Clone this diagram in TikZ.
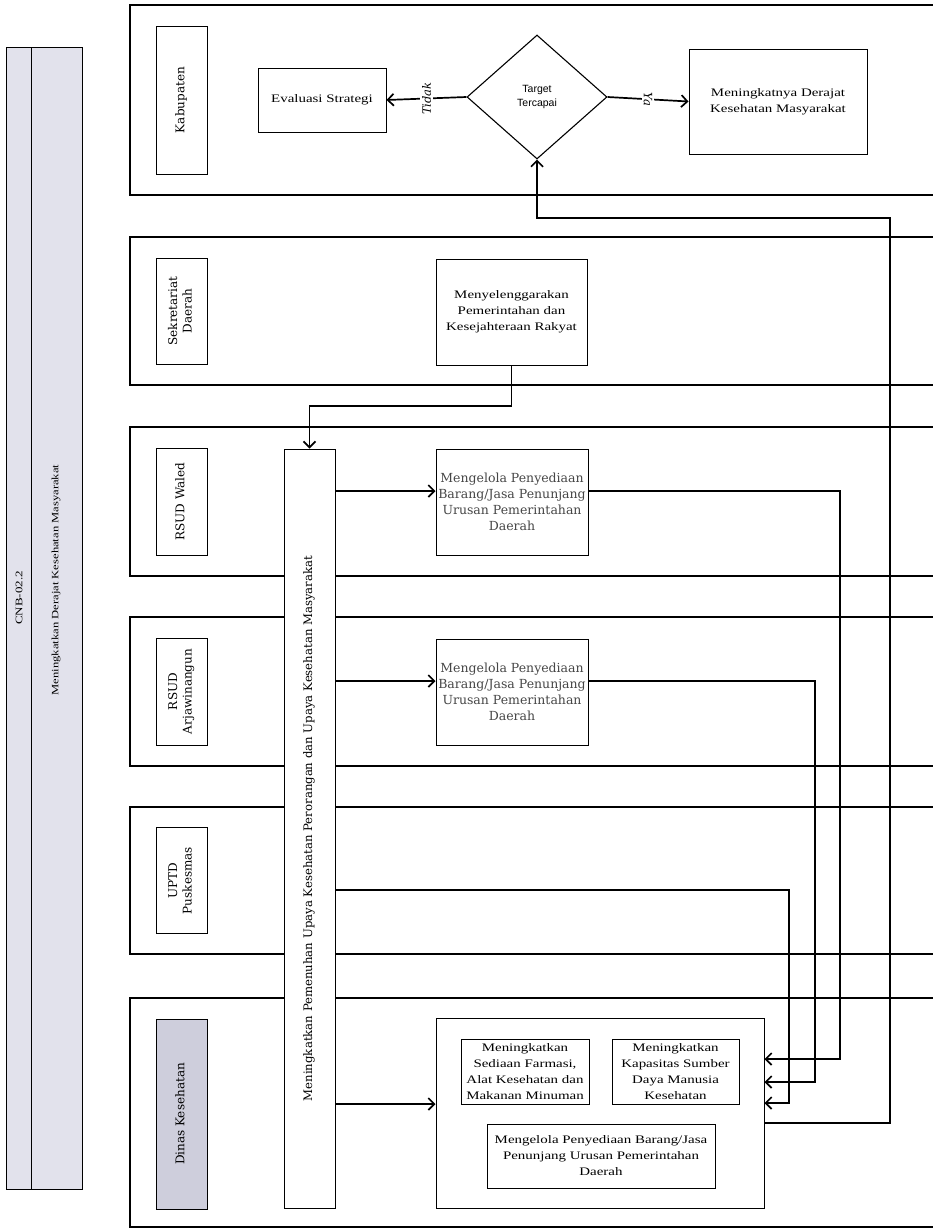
\documentclass[tikz,border=0pt]{standalone}
\usepackage{fontspec}
\setmainfont{DejaVu Serif}
\newfontfamily\tm[FakeStretch=1.3]{Liberation Serif}
\newfontfamily\bk{DejaVu Serif}
\newfontfamily\sn{Liberation Sans}
\usetikzlibrary{shapes.geometric,arrows.meta}
\definecolor{barfill}{RGB}{226,226,236}
\definecolor{lblfill}{RGB}{206,206,220}
\definecolor{txtgray}{RGB}{70,70,70}
\newcommand{\vt}[1]{\rotatebox{90}{\begin{tabular}{@{}c@{}}#1\end{tabular}}}
\begin{document}
\begin{tikzpicture}[x=1pt,y=-1pt,
  lane/.style={draw, line width=2.1pt},
  box/.style={draw, line width=1pt, inner sep=0pt, align=center, fill=white},
  conn/.style={line width=1.7pt},
  arr/.style={conn, -{Straight Barb[length=6pt,width=12pt]}},
  bkf/.style={font=\bk\fontsize{12.5}{16}\selectfont},
  tmf/.style={font=\tm\fontsize{11.5}{16}\selectfont},
  labf/.style={font=\bk\fontsize{12}{14.5}\selectfont},
  lblbox/.style={box, labf, minimum width=51pt},
]
\fill[white] (0,0) rectangle (933,1229);
\useasboundingbox (0,0) rectangle (933,1229);
\clip (0,0) rectangle (933,1229);

% left bar
\draw[fill=barfill, line width=1pt] (6,47) rectangle (82,1189);
\draw[line width=1pt] (31,47) -- (31,1189);
\node[rotate=90, font=\tm\fontsize{10}{11}\selectfont] (cnb) at (19,598) {CNB-02.2};
\node[rotate=90, font=\tm\fontsize{9.7}{11}\selectfont] (ttl) at (56,580) {Meningkatkan Derajat Kesehatan Masyarakat};

% lanes
\draw[lane] (130,5) rectangle (960,195);
\draw[lane] (130,237) rectangle (960,385);
\draw[lane] (130,427) rectangle (960,576);
\draw[lane] (130,617) rectangle (960,766);
\draw[lane] (130,807) rectangle (960,954);
\draw[lane] (130,998) rectangle (960,1227);

% lane labels
\node[lblbox, minimum height=148pt] (lkab) at (181.5,100) {\vt{Kabupaten}};
\node[lblbox, minimum height=106pt] (lsek) at (181.5,311) {\vt{Sekretariat\\Daerah}};
\node[lblbox, minimum height=107pt] (lwal) at (181.5,501.5) {\vt{RSUD Waled}};
\node[lblbox, minimum height=107pt] (larj) at (181.5,691.5) {\vt{RSUD\\Arjawinangun}};
\node[lblbox, minimum height=106pt] (lupt) at (181.5,880.5) {\vt{UPTD\\Puskesmas}};
\node[lblbox, minimum height=190pt, fill=lblfill] (ldin) at (181.5,1114) {\vt{Dinas Kesehatan}};

% Kabupaten lane
\node[box, tmf, minimum width=128pt, minimum height=64pt] (eval) at (322,100) {Evaluasi Strategi};
\node[draw, line width=1.1pt, diamond, inner sep=0pt, minimum width=140pt, minimum height=124pt, align=center, font=\sn\fontsize{10.5}{14}\selectfont] (dia) at (537,97) {Target\\Tercapai};
\node[box, tmf, minimum width=178pt, minimum height=105pt] (hasil) at (778,101.5) {Meningkatnya Derajat\\Kesehatan Masyarakat};

% Sekretariat
\node[box, tmf, minimum width=151pt, minimum height=106pt] (menyel) at (511.5,312) {Menyelenggarakan\\Pemerintahan dan\\Kesejahteraan Rakyat};

% RSUD boxes
\node[box, bkf, text=txtgray, minimum width=152pt, minimum height=106pt] (m1) at (512,502) {Mengelola Penyediaan\\Barang/Jasa Penunjang\\Urusan Pemerintahan\\Daerah};
\node[box, bkf, text=txtgray, minimum width=152pt, minimum height=106pt] (m2) at (512,692) {Mengelola Penyediaan\\Barang/Jasa Penunjang\\Urusan Pemerintahan\\Daerah};

% long vertical box
\node[box, font=\bk\fontsize{11.7}{13}\selectfont, minimum width=51pt, minimum height=759pt] (long) at (309.5,828.5) {\vt{Meningkatkan Pemenuhan Upaya Kesehatan Perorangan dan Upaya Kesehatan Masyarakat}};

% Dinas boxes
\node[box, minimum width=328pt, minimum height=190pt] (big) at (600,1113) {};
\node[box, tmf, minimum width=128pt, minimum height=65pt] (in1) at (525,1071.5) {Meningkatkan\\Sediaan Farmasi,\\Alat Kesehatan dan\\Makanan Minuman};
\node[box, tmf, minimum width=127pt, minimum height=65pt] (in2) at (675.5,1071.5) {Meningkatkan\\Kapasitas Sumber\\Daya Manusia\\Kesehatan};
\node[box, tmf, minimum width=228pt, minimum height=64pt] (in3) at (601,1156) {Mengelola Penyediaan Barang/Jasa\\Penunjang Urusan Pemerintahan\\Daerah};

% connectors
\draw[arr] (dia.west) -- node[fill=white, rotate=90, inner sep=2pt, font=\bk\itshape\fontsize{11.5}{13}\selectfont] (tdk) {Tidak} (eval.east);
\draw[arr] (dia.east) -- node[fill=white, rotate=-90, inner sep=2pt, font=\bk\itshape\fontsize{11.5}{13}\selectfont] (ya) {Ya} (hasil.west);

\coordinate (s1) at (309.5,406);
\draw[arr] (menyel.south) |- (s1) -- (long.north);

\path ([yshift=11pt]m1.west) coordinate (m1in);
\path ([yshift=11pt]m1.east) coordinate (m1out);
\path ([yshift=11pt]m2.west) coordinate (m2in);
\path ([yshift=11pt]m2.east) coordinate (m2out);
\path ([yshift=9pt]big.west) coordinate (bigin);
\coordinate (pky) at (0,890);
\coordinate (k1) at (840,1059);
\coordinate (k2) at (815,1082);
\coordinate (k3) at (789,1103);
\coordinate (fb) at (890,1123);
\coordinate (fbt) at (890,218);

\draw[arr] (long.east |- m1in) -- (m1in);
\draw[arr] (long.east |- m2in) -- (m2in);
\draw[arr] (long.east |- bigin) -- (bigin);
\draw[arr] (m1out) -| (k1) -- (big.east |- k1);
\draw[arr] (m2out) -| (k2) -- (big.east |- k2);
\draw[arr] (long.east |- pky) -| (k3) -- (big.east |- k3);
\draw[arr] (big.east |- fb) -| (fbt) -| (dia.south);
\end{tikzpicture}
\end{document}
